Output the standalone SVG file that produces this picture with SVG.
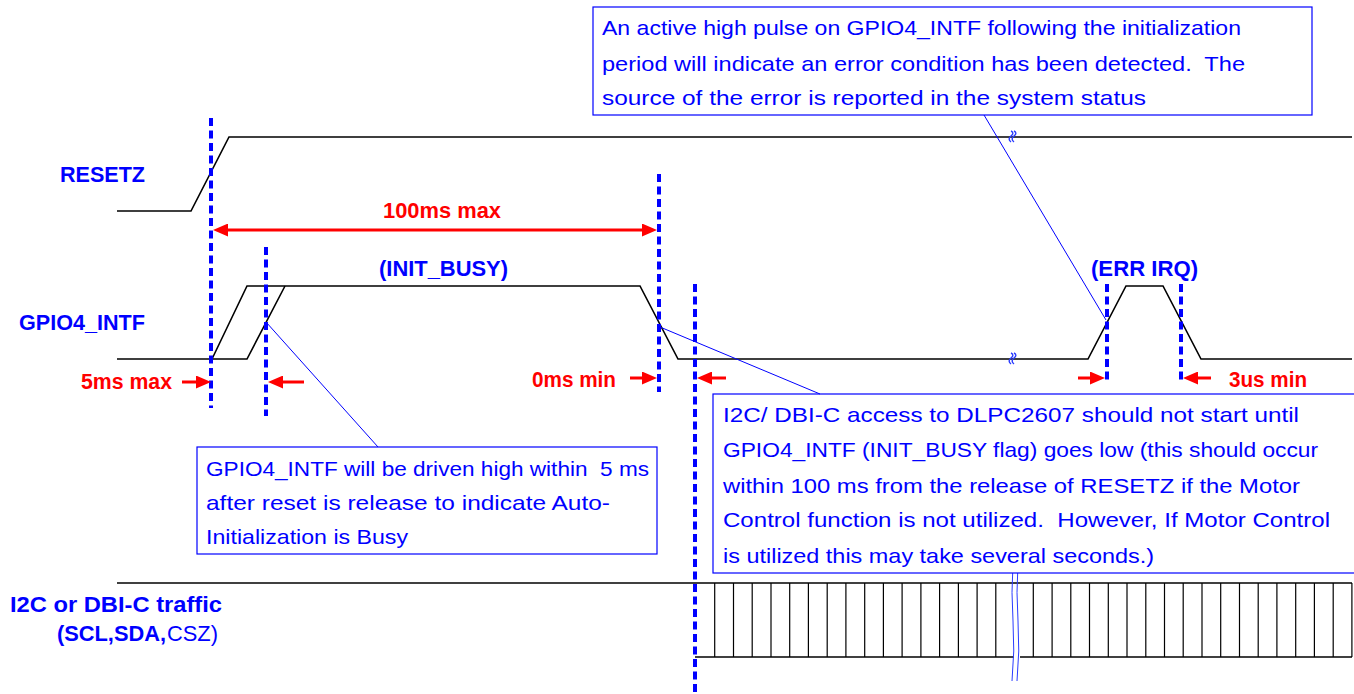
<svg xmlns="http://www.w3.org/2000/svg" width="1354" height="694" viewBox="0 0 1354 694">
  <style>
    .wave { fill: none; stroke: #000; stroke-width: 1.6; stroke-linejoin: miter; }
    .tick { stroke: #000; stroke-width: 1.2; }
    .mark { fill: none; stroke: #0000ff; stroke-width: 4; stroke-dasharray: 8 4.5; }
    .dim { fill: none; stroke: #ff0000; stroke-width: 3; }
    .lead { fill: none; stroke: #0000ff; stroke-width: 1; }
    .brk { fill: none; stroke: #2a3cff; stroke-width: 1; }
    .sq { fill: none; stroke: #2a3cff; stroke-width: 1.4; }
    .box { fill: #ffffff; stroke: #0000ff; stroke-width: 1.2; }
    .sig { font-family: "Liberation Sans", Arial, sans-serif; font-weight: bold; font-size: 22px; fill: #0000ff; }
    .sigr { font-family: "Liberation Sans", Arial, sans-serif; font-size: 22px; fill: #0000ff; }
    .red { font-family: "Liberation Sans", Arial, sans-serif; font-weight: bold; font-size: 22px; fill: #ff0000; }
    .note { font-family: "Liberation Sans", Arial, sans-serif; font-size: 21px; fill: #0000ff; white-space: pre; }
  </style>
  <defs>
    <marker id="ah" markerUnits="userSpaceOnUse" markerWidth="15" markerHeight="13" viewBox="0 0 15 13" refX="7" refY="6.5" orient="auto-start-reverse">
      <path d="M0,0 L15,6.5 L0,13 z" fill="#ff0000"/>
    </marker>
    <!-- small time-break squiggle -->
    <path id="squiggle" d="M0,0 c2.5,1 2.5,3 0,5 c-2.5,2 -2.5,4 0,6 M3,0 c2.5,1 2.5,3 0,5 c-2.5,2 -2.5,4 0,6"/>
  </defs>

  <rect width="1354" height="694" fill="#ffffff"/>

  <!-- RESETZ waveform -->
  <g id="resetz">
    <polyline class="wave" points="117,211 191,211 229,137 1352,137"/>
    <text class="sig" x="60" y="182" textLength="85" lengthAdjust="spacingAndGlyphs">RESETZ</text>
    <use href="#squiggle" class="sq" x="1011" y="131"/>
  </g>

  <!-- GPIO4_INTF waveform: early and late rising edge, INIT_BUSY, ERR IRQ pulse -->
  <g id="gpio4-intf">
    <polyline class="wave" points="117,359 247,359 285,286"/>
    <polyline class="wave" points="212,359 247,286 640,286 678,359 1088,359 1126,286 1163,286 1201,359 1352,359"/>
    <text class="sig" x="19" y="330" textLength="126" lengthAdjust="spacingAndGlyphs">GPIO4_INTF</text>
    <text class="sig" x="379" y="276" textLength="129" lengthAdjust="spacingAndGlyphs">(INIT_BUSY)</text>
    <text class="sig" x="1091" y="276" textLength="107" lengthAdjust="spacingAndGlyphs">(ERR IRQ)</text>
    <use href="#squiggle" class="sq" x="1011" y="353"/>
  </g>

  <!-- I2C / DBI-C bus traffic -->
  <g id="bus-traffic">
    <line class="wave" x1="117" y1="583" x2="1352" y2="583"/>
    <line class="wave" x1="695" y1="657" x2="1014" y2="657"/>
    <line class="wave" x1="1020" y1="657" x2="1352" y2="657"/>
    <g class="tick">
      <line x1="714.7" y1="583" x2="714.7" y2="657"/>
      <line x1="733.5" y1="583" x2="733.5" y2="657"/>
      <line x1="752.2" y1="583" x2="752.2" y2="657"/>
      <line x1="771" y1="583" x2="771" y2="657"/>
      <line x1="789.7" y1="583" x2="789.7" y2="657"/>
      <line x1="808.4" y1="583" x2="808.4" y2="657"/>
      <line x1="827.2" y1="583" x2="827.2" y2="657"/>
      <line x1="845.9" y1="583" x2="845.9" y2="657"/>
      <line x1="864.7" y1="583" x2="864.7" y2="657"/>
      <line x1="883.4" y1="583" x2="883.4" y2="657"/>
      <line x1="902.1" y1="583" x2="902.1" y2="657"/>
      <line x1="920.9" y1="583" x2="920.9" y2="657"/>
      <line x1="939.6" y1="583" x2="939.6" y2="657"/>
      <line x1="958.4" y1="583" x2="958.4" y2="657"/>
      <line x1="977.1" y1="583" x2="977.1" y2="657"/>
      <line x1="995.8" y1="583" x2="995.8" y2="657"/>
      <line x1="1033.3" y1="583" x2="1033.3" y2="657"/>
      <line x1="1052.1" y1="583" x2="1052.1" y2="657"/>
      <line x1="1070.8" y1="583" x2="1070.8" y2="657"/>
      <line x1="1089.5" y1="583" x2="1089.5" y2="657"/>
      <line x1="1108.3" y1="583" x2="1108.3" y2="657"/>
      <line x1="1127" y1="583" x2="1127" y2="657"/>
      <line x1="1145.8" y1="583" x2="1145.8" y2="657"/>
      <line x1="1164.5" y1="583" x2="1164.5" y2="657"/>
      <line x1="1183.2" y1="583" x2="1183.2" y2="657"/>
      <line x1="1202" y1="583" x2="1202" y2="657"/>
      <line x1="1220.7" y1="583" x2="1220.7" y2="657"/>
      <line x1="1239.5" y1="583" x2="1239.5" y2="657"/>
      <line x1="1258.2" y1="583" x2="1258.2" y2="657"/>
      <line x1="1276.9" y1="583" x2="1276.9" y2="657"/>
      <line x1="1295.7" y1="583" x2="1295.7" y2="657"/>
      <line x1="1314.4" y1="583" x2="1314.4" y2="657"/>
      <line x1="1333.2" y1="583" x2="1333.2" y2="657"/>
      <line x1="1351.9" y1="583" x2="1351.9" y2="657"/>
    </g>
    <path class="brk" d="M1013,563 q-2,30 0,58 q2,30 -1,60 M1018,563 q-2,30 0,58 q2,30 -1,60"/>
    <text class="sig" x="10" y="612" textLength="212" lengthAdjust="spacingAndGlyphs">I2C or DBI-C traffic</text>
    <text class="sig" x="57" y="641" textLength="109" lengthAdjust="spacingAndGlyphs">(SCL,SDA,</text>
    <text class="sigr" x="167" y="641" textLength="51" lengthAdjust="spacingAndGlyphs">CSZ)</text>
  </g>

  <!-- callout notes -->
  <g id="note-err-irq">
    <rect class="box" x="593" y="7" width="719" height="108"/>
    <text class="note" x="602" y="35" textLength="639" lengthAdjust="spacingAndGlyphs">An active high pulse on GPIO4_INTF following the initialization</text>
    <text class="note" x="602" y="71" textLength="643" lengthAdjust="spacingAndGlyphs">period will indicate an error condition has been detected.  The</text>
    <text class="note" x="602" y="105" textLength="544" lengthAdjust="spacingAndGlyphs">source of the error is reported in the system status</text>
  </g>

  <g id="note-init-busy">
    <rect class="box" x="197" y="447" width="460" height="107"/>
    <text class="note" x="206" y="476" textLength="443" lengthAdjust="spacingAndGlyphs">GPIO4_INTF will be driven high within  5 ms</text>
    <text class="note" x="206" y="510" textLength="404" lengthAdjust="spacingAndGlyphs">after reset is release to indicate Auto-</text>
    <text class="note" x="206" y="544" textLength="202" lengthAdjust="spacingAndGlyphs">Initialization is Busy</text>
  </g>

  <g id="note-bus-access">
    <rect class="box" x="713" y="394" width="645" height="179"/>
    <text class="note" x="723" y="422" textLength="576" lengthAdjust="spacingAndGlyphs">I2C/ DBI-C access to DLPC2607 should not start until</text>
    <text class="note" x="723" y="457" textLength="595" lengthAdjust="spacingAndGlyphs">GPIO4_INTF (INIT_BUSY flag) goes low (this should occur</text>
    <text class="note" x="723" y="493" textLength="577" lengthAdjust="spacingAndGlyphs">within 100 ms from the release of RESETZ if the Motor</text>
    <text class="note" x="723" y="527" textLength="607" lengthAdjust="spacingAndGlyphs">Control function is not utilized.  However, If Motor Control</text>
    <text class="note" x="723" y="563" textLength="431" lengthAdjust="spacingAndGlyphs">is utilized this may take several seconds.)</text>
  </g>

  <!-- connectors: timing markers, dimension arrows, note leaders -->
  <g id="connectors">
    <line class="mark" x1="211" y1="118" x2="211" y2="408"/>
    <line class="mark" x1="266" y1="247" x2="266" y2="416"/>
    <line class="mark" x1="659" y1="174" x2="659" y2="392"/>
    <line class="mark" x1="695" y1="284" x2="695" y2="694"/>
    <line class="mark" x1="1107" y1="284" x2="1107" y2="380"/>
    <line class="mark" x1="1181" y1="284" x2="1181" y2="380"/>

    <line class="dim" x1="221" y1="230" x2="649" y2="230" marker-start="url(#ah)" marker-end="url(#ah)"/>
    <line class="dim" x1="182" y1="382" x2="203" y2="382" marker-end="url(#ah)"/>
    <line class="dim" x1="304" y1="382" x2="276" y2="382" marker-end="url(#ah)"/>
    <line class="dim" x1="630" y1="378" x2="649" y2="378" marker-end="url(#ah)"/>
    <line class="dim" x1="726" y1="378" x2="705" y2="378" marker-end="url(#ah)"/>
    <line class="dim" x1="1078" y1="378" x2="1097" y2="378" marker-end="url(#ah)"/>
    <line class="dim" x1="1211" y1="378" x2="1191" y2="378" marker-end="url(#ah)"/>

    <line class="lead" x1="266" y1="322" x2="378" y2="447"/>
    <line class="lead" x1="660" y1="327" x2="820" y2="394"/>
    <line class="lead" x1="984" y1="115" x2="1106" y2="320"/>
  </g>

  <!-- timing values -->
  <g id="timing-labels">
    <text class="red" x="383" y="218" textLength="118" lengthAdjust="spacingAndGlyphs">100ms max</text>
    <text class="red" x="81" y="389" textLength="91" lengthAdjust="spacingAndGlyphs">5ms max</text>
    <text class="red" x="532" y="387" textLength="84" lengthAdjust="spacingAndGlyphs">0ms min</text>
    <text class="red" x="1229" y="387" textLength="78" lengthAdjust="spacingAndGlyphs">3us min</text>
  </g>
</svg>
